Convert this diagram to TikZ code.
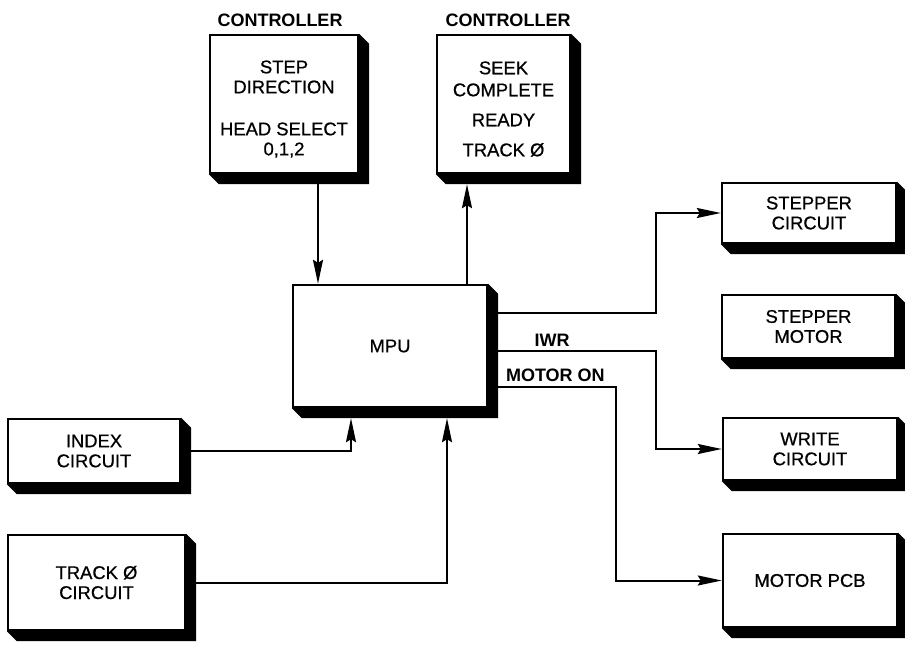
\documentclass[tikz,border=0pt]{standalone}
\usepackage{fontspec}
\setmainfont{Liberation Sans}
\newfontfamily\medsans{Liberation Sans}[FakeBold=0.7]
\usetikzlibrary{arrows.meta,calc}

% solid block shadow below and right of a box
\newcommand{\blkshade}[1]{%
  \fill (#1.north east) -- ++(10,10) -- ($(#1.south east)+(10,10)$)
    -- ($(#1.south west)+(10,10)$) -- (#1.south west) -- (#1.south east) -- cycle;}

\begin{document}
\begin{tikzpicture}[x=0.5pt, y=-0.5pt,
    blk/.style={draw, line width=1.2pt, fill=white, align=center, inner sep=0pt,
      font=\medsans\fontsize{9.2}{10}\selectfont},
    ttl/.style={font=\fontsize{9}{10}\selectfont\bfseries},
    arr/.style={line width=1pt, -{Stealth[length=12pt, width=5pt, inset=1.5pt]}}]
    \useasboundingbox (0,0) rectangle (905,669);

    \node [ttl] (ttlA) at (280,20) {CONTROLLER};
    \node [ttl] (ttlB) at (508,20) {CONTROLLER};
    \node [blk, minimum width=74pt, minimum height=69pt] (ctlA) at (284,104)
        {\rule{0pt}{11.5pt}STEP\\DIRECTION\\[11pt]HEAD SELECT\\0,1,2};
    \node [blk, minimum width=66.5pt, minimum height=69pt] (ctlB) at (503.5,104)
        {\rule{0pt}{11.5pt}SEEK\\[1pt]COMPLETE\\[5pt]READY\\[5pt]TRACK Ø};
    \node [blk, minimum width=97pt, minimum height=61pt] (mpu) at (390,346) {MPU};
    \node [blk, minimum width=87pt, minimum height=30pt] (stepc) at (809,213) {STEPPER\\CIRCUIT};
    \node [blk, minimum width=86.5pt, minimum height=31.5pt] (stepm) at (808.5,326.5) {STEPPER\\MOTOR};
    \node [blk, minimum width=87pt, minimum height=31pt] (writec) at (810,449) {WRITE\\CIRCUIT};
    \node [blk, minimum width=87pt, minimum height=46.5pt] (motpcb) at (810,580.5) {MOTOR PCB};
    \node [blk, minimum width=86pt, minimum height=32pt] (index) at (94,451) {INDEX\\CIRCUIT};
    \node [blk, minimum width=88.5pt, minimum height=47.5pt] (track) at (96.5,582.5) {TRACK Ø\\CIRCUIT};

    \foreach \b in {ctlA,ctlB,mpu,stepc,stepm,writec,motpcb,index,track}
        {\blkshade{\b}}

    \node [ttl] (iwr) at (552,340) {IWR};
    \node [ttl, anchor=west] (moton) at (499,375) {MOTOR ON};

    \coordinate (a) at ($(ctlA.south)+(34,0)$);
    \coordinate (b) at ($(mpu.north)+(77,0)$);
    \draw [arr] (a) -- (a |- mpu.north);
    \draw [arr] (b) -- ($(b |- ctlB.south)+(0,10)$);

    \draw [arr] ($(mpu.east)+(0,-33)$) -- ++(168,0) |- (stepc.west);
    \draw [arr] ($(mpu.east)+(0,5)$) -- ++(168,0) |- (writec.west);
    \draw [arr] ($(mpu.east)+(0,41)$) -- ++(128,0) |- (motpcb.west);

    \draw [arr] (index.east) -| ($(mpu.south)+(-39,10)$);
    \draw [arr] (track.east) -| ($(mpu.south)+(57,10)$);
\end{tikzpicture}
\end{document}
